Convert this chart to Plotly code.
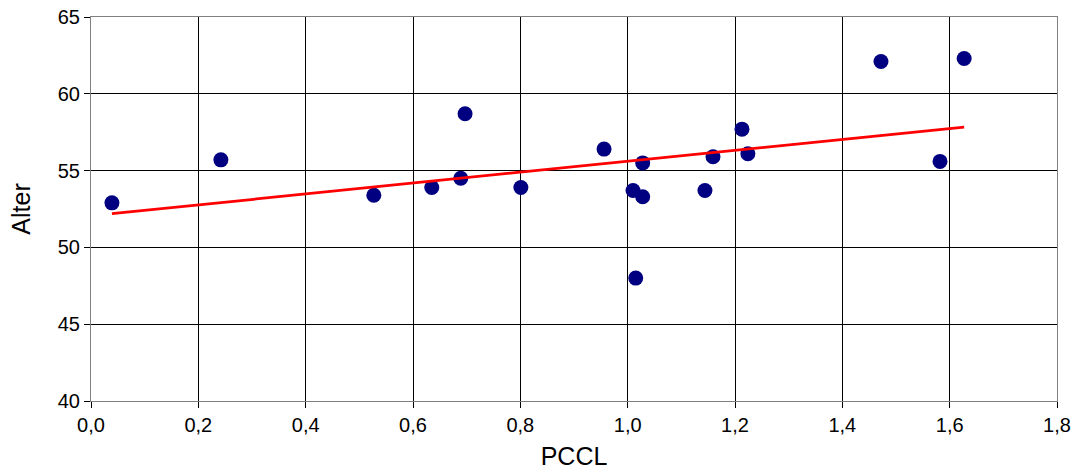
import numpy as np
import plotly.graph_objects as go

# PCCL vs. age measurements
pccl = [0.039, 0.242, 0.527, 0.635, 0.689, 0.697, 0.801, 0.956, 1.010, 1.015,
        1.028, 1.028, 1.144, 1.159, 1.213, 1.224, 1.472, 1.582, 1.627]
alter = [52.9, 55.7, 53.4, 53.9, 54.5, 58.7, 53.9, 56.4, 53.7, 48.0,
         53.3, 55.5, 53.7, 55.9, 57.7, 56.1, 62.1, 55.6, 62.3]

x_ticks = [0.0, 0.2, 0.4, 0.6, 0.8, 1.0, 1.2, 1.4, 1.6, 1.8]
y_ticks = [40, 45, 50, 55, 60, 65]

# linear trend line over the data range
slope, intercept = np.polyfit(pccl, alter, 1)
trend_x = [min(pccl), max(pccl)]
trend_y = [slope * v + intercept for v in trend_x]

fig = go.Figure()
fig.add_trace(go.Scatter(
    x=pccl, y=alter, mode="markers",
    marker=dict(color="#000080", size=15, line=dict(width=0)),
    showlegend=False, hoverinfo="x+y",
))
fig.add_trace(go.Scatter(
    x=trend_x, y=trend_y, mode="lines",
    line=dict(color="#FF0000", width=2.7),
    showlegend=False, hoverinfo="skip",
))

font_family = "Liberation Sans, Arial, sans-serif"

fig.update_layout(
    width=1075, height=473,
    margin=dict(l=91, r=18, t=17, b=72),
    paper_bgcolor="white", plot_bgcolor="white",
    separators=",.",
    font=dict(family=font_family, size=20, color="black"),
)
fig.update_xaxes(
    range=[0, 1.8], tickvals=x_ticks, tickformat=".1f",
    showgrid=True, gridcolor="black", gridwidth=1,
    showline=True, linecolor="#808080", linewidth=1, mirror=True,
    ticks="outside", ticklen=6, tickcolor="black",
    zeroline=False, automargin=False,
    title=dict(text="PCCL", font=dict(size=25), standoff=12),
)
fig.update_yaxes(
    range=[40, 65], tickvals=y_ticks,
    showgrid=True, gridcolor="black", gridwidth=1,
    showline=True, linecolor="#808080", linewidth=1, mirror=True,
    ticks="outside", ticklen=6, tickcolor="black",
    zeroline=False, automargin=False,
    title=dict(text="Alter", font=dict(size=25), standoff=20),
)

fig.write_html("out.html")
